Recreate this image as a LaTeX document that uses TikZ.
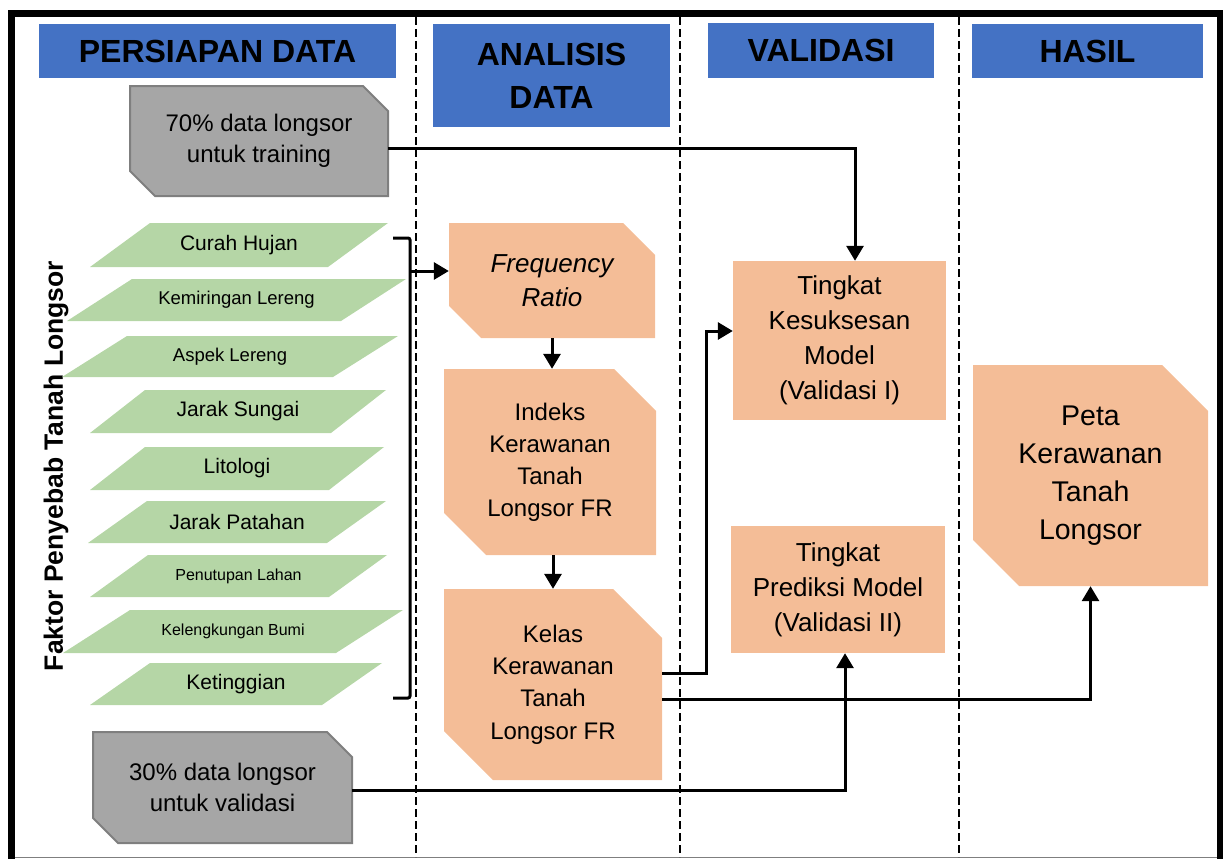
\documentclass[tikz,border=0pt]{standalone}
\usepackage{fontspec}
\setmainfont{Liberation Sans}
\usetikzlibrary{arrows.meta,calc}
\definecolor{hdrblue}{HTML}{4472C4}
\definecolor{boxorange}{HTML}{F4BD97}
\definecolor{boxgreen}{HTML}{B5D6A6}
\definecolor{boxgray}{HTML}{A6A6A6}
\definecolor{edgegray}{HTML}{7F7F7F}
\tikzset{
  hdr/.style={fill=hdrblue, inner sep=0pt, align=center, font=\bfseries\fontsize{32}{43}\selectfont},
  orangefill/.style={fill=boxorange},
  grayfill/.style={fill=boxgray, draw=edgegray, line width=2pt},
  plainbox/.style={rectangle, fill=boxorange, inner sep=0pt, align=center,
     font=\fontsize{26}{35}\selectfont},
  conn/.style={line width=3pt},
  arr/.style={line width=3pt, -{Triangle[width=17pt,length=15pt]}},
  lane/.style={line width=2pt, dash pattern=on 8pt off 4pt},
}
% #1 name, #2 cx, #3 cy, #4 w, #5 h, #6 chamfer, #7 path style, #8 font, #9 text
\newcommand\snipnode[9]{%
  \path[#7] ({#2-#4/2},{#3-#5/2}) -- ({#2+#4/2-#6},{#3-#5/2}) -- ({#2+#4/2},{#3-#5/2+#6})
     -- ({#2+#4/2},{#3+#5/2}) -- ({#2-#4/2+#6},{#3+#5/2}) -- ({#2-#4/2},{#3+#5/2-#6}) -- cycle;
  \node[rectangle, inner sep=0pt, minimum width=#4pt, minimum height=#5pt, align=center, font=#8] (#1) at (#2,#3) {#9};}
\newcommand\greenpara[8]{%
  \fill[boxgreen] (#3,#2) -- (#4,#1) -- ({#4+#5},#1) -- ({#3+#5},#2) -- cycle;
  \node[font=\fontsize{#6}{#6}\selectfont, inner sep=0pt] (#7) at ({(#3+#4+#5)/2},{(#1+#2)/2}) {#8};}
\begin{document}
\begin{tikzpicture}[x=1pt,y=-1pt]
\useasboundingbox (0,0) rectangle (1223,859);
% frame
\draw[line width=7pt] (11.5,859) -- (11.5,13.5) -- (1220.5,13.5) -- (1220.5,859);
\draw[edgegray, line width=1.5pt] (15,857.5) -- (1217,857.5);
% lanes
\draw[lane] (416,17) -- (416,857);
\draw[lane] (680,17) -- (680,857);
\draw[lane] (959,17) -- (959,857);
% headers
\node[hdr, minimum width=357pt, minimum height=54pt] (h1) at (217.5,51) {PERSIAPAN DATA};
\node[hdr, minimum width=237pt, minimum height=103pt] (h2) at (551.5,75.5) {ANALISIS\\DATA};
\node[hdr, minimum width=226pt, minimum height=55pt] (h3) at (821,50.5) {VALIDASI};
\node[hdr, minimum width=231pt, minimum height=54pt] (h4) at (1087.5,51) {HASIL};
% side label
\node[rotate=90, inner sep=0pt, font=\bfseries\fontsize{26.5}{30}\selectfont] (lbl) at (56,466) {Faktor Penyebab Tanah Longsor};
% gray boxes
\snipnode{g70}{259}{141}{258}{110}{25}{grayfill}{\fontsize{24}{31}\selectfont}{70\% data longsor\\untuk training}
\snipnode{g30}{222.5}{787.5}{259}{111}{25}{grayfill}{\fontsize{24}{31}\selectfont}{30\% data longsor\\untuk validasi}
% factor parallelograms
\greenpara{223}{267}{90}{150}{238}{21}{f1}{Curah Hujan}
\greenpara{279}{321}{67}{132}{274}{18.5}{f2}{Kemiringan Lereng}
\greenpara{336}{377}{62}{127}{271}{18.5}{f3}{Aspek Lereng}
\greenpara{390}{433}{90}{145}{241}{21}{f4}{Jarak Sungai}
\greenpara{447}{490}{90}{145}{239}{21}{f5}{Litologi}
\greenpara{501}{543}{88}{147}{239}{21}{f6}{Jarak Patahan}
\greenpara{555}{597}{90}{148}{239}{16}{f7}{Penutupan Lahan}
\greenpara{610}{653}{63}{130}{273}{16}{f8}{Kelengkungan Bumi}
\greenpara{663}{705}{90}{150}{232}{21}{f9}{Ketinggian}
% bracket
\draw[conn, rounded corners=2pt] (393,238) -- (410,238) -- (410,698) -- (393,698);
\coordinate (brk) at (410,271);
% analysis boxes
\snipnode{fr}{552}{280.5}{206}{115}{32}{orangefill}{\itshape\fontsize{26}{34}\selectfont}{Frequency\\Ratio}
\snipnode{ik}{550}{462}{212}{186}{42}{orangefill}{\fontsize{24}{32}\selectfont}{Indeks\\Kerawanan\\Tanah\\Longsor FR}
\snipnode{kl}{553}{684.5}{218}{191}{49}{orangefill}{\fontsize{24}{32.3}\selectfont}{Kelas\\Kerawanan\\Tanah\\Longsor FR}
% validation boxes
\node[plainbox, minimum width=213pt, minimum height=159pt] (tk) at (839.5,340.5) {Tingkat\\Kesuksesan\\Model\\(Validasi I)};
\node[plainbox, minimum width=214pt, minimum height=127pt] (tp) at (838,589.5) {Tingkat\\Prediksi Model\\(Validasi II)};
% result
\snipnode{pt}{1090.5}{475.5}{235}{221}{46}{orangefill}{\fontsize{28.5}{38}\selectfont}{Peta\\Kerawanan\\Tanah\\Longsor}
% connectors
\draw[arr] (brk) -- (brk -| fr.west);
\draw[arr] (fr.south) -- (fr.south |- ik.north);
\draw[arr] (kl.north |- ik.south) -- (kl.north);
\draw[arr] (g70.east |- 0,148) -| ([xshift=15.5pt]tk.north);
\draw[arr] (kl.east |- 0,673) -- (706,673) |- (tk.west |- 0,331);
\draw[arr] (kl.east |- 0,699) -| (pt.south);
\draw[arr] (g30.east |- 0,790) -| ([xshift=7pt]tp.south);
\end{tikzpicture}
\end{document}
